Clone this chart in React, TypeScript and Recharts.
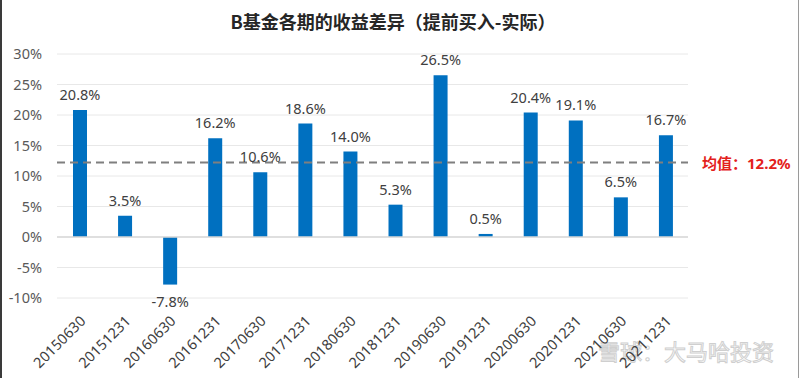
import React from "react";
import { BarChart, Bar, XAxis, YAxis, CartesianGrid, ReferenceLine, LabelList } from "recharts";

const categories = [
  "20150630", "20151231", "20160630", "20161231", "20170630", "20171231", "20180630",
  "20181231", "20190630", "20191231", "20200630", "20201231", "20210630", "20211231",
];
const values = [20.8, 3.5, -7.8, 16.2, 10.6, 18.6, 14.0, 5.3, 26.5, 0.5, 20.4, 19.1, 6.5, 16.7];
const yTicks = [-10, -5, 0, 5, 10, 15, 20, 25, 30];
const MEAN = 12.2;
const TITLE = "B基金各期的收益差异（提前买入-实际）";
const MEAN_LABEL = "均值：";
const WATERMARK = "雪球：大马哈投资";

const data = categories.map((c, i) => ({ name: c, value: values[i] }));

const NUM_FONT = "'Noto Sans', 'Noto Sans CJK SC', sans-serif";
const CJK_FONT = "'Noto Sans CJK SC', 'Noto Sans', sans-serif";

const XTick = (props: any) => {
  const { x, y, payload } = props;
  return (
    <g transform={`translate(${x + 7},${y + 16})`}>
      <text x={0} y={0} textAnchor="end" transform="rotate(-45)" fontSize={14.5} fill="#404040" fontFamily={NUM_FONT}>
        {payload.value}
      </text>
    </g>
  );
};

const ValueLabel = (props: any) => {
  const { x, y, width, height, value } = props;
  const top = Math.min(y, y + height);
  const bottom = Math.max(y, y + height);
  const cx = x + width / 2;
  const ty = value < 0 ? bottom + 22 : top - 10;
  return (
    <text x={cx} y={ty} textAnchor="middle" fontSize={14.5} fill="#404040" fontFamily={NUM_FONT}>
      {`${Number(value).toFixed(1)}%`}
    </text>
  );
};

const MeanLabel = (props: any) => {
  const vb = props.viewBox || {};
  const x = (vb.x || 0) + (vb.width || 0) + 14;
  const y = (vb.y || 0) + 6;
  return (
    <text x={x} y={y} fontSize={15} fontWeight="bold" fill="#e3201b" fontFamily={CJK_FONT}>
      {MEAN_LABEL}
      <tspan fontFamily={NUM_FONT}>{`${MEAN}%`}</tspan>
    </text>
  );
};

export default function App() {
  return (
    <div style={{ position: "absolute", left: 0, top: 0, width: 800, height: 378, background: "#fff" }}>
      <BarChart
        width={800}
        height={378}
        data={data}
        margin={{ top: 54, right: 112, left: 0, bottom: 0 }}
      >
        <text x={393} y={29} textAnchor="middle" fontSize={18} fontWeight="bold" fill="#262626" fontFamily={CJK_FONT}>
          {TITLE}
        </text>
        <CartesianGrid vertical={false} stroke="#e8e8e8" />
        <XAxis
          dataKey="name"
          height={80}
          interval={0}
          axisLine={false}
          tickLine={false}
          tick={(p: any) => <XTick {...p} />}
        />
        <YAxis
          domain={[-10, 30]}
          ticks={yTicks}
          width={57}
          axisLine={false}
          tickLine={false}
          tickMargin={9}
          tick={{ fontSize: 14.5, fill: "#595959", fontFamily: NUM_FONT }}
          tickFormatter={(v: number) => `${v}%`}
        />
        <ReferenceLine y={0} stroke="#d9d9d9" strokeWidth={1.5} />
        <Bar dataKey="value" fill="#0070c0" barSize={14} isAnimationActive={false}>
          <LabelList dataKey="value" content={(p: any) => <ValueLabel {...p} />} />
        </Bar>
        <ReferenceLine
          y={MEAN}
          stroke="#7f7f7f"
          strokeWidth={2}
          strokeDasharray="8 5"
          label={(p: any) => <MeanLabel {...p} />}
        />
        <text x={598} y={360} fontSize={22} fill="#ffffff" stroke="#cfcfcf" strokeWidth={1} fontFamily={CJK_FONT}>
          {WATERMARK}
        </text>
      </BarChart>
      <div style={{ position: "absolute", left: 0, top: 0, width: 2, height: 378, background: "#3a3a3a" }} />
      <div style={{ position: "absolute", right: 1, top: 0, width: 1, height: 378, background: "#9a9a9a" }} />
    </div>
  );
}
